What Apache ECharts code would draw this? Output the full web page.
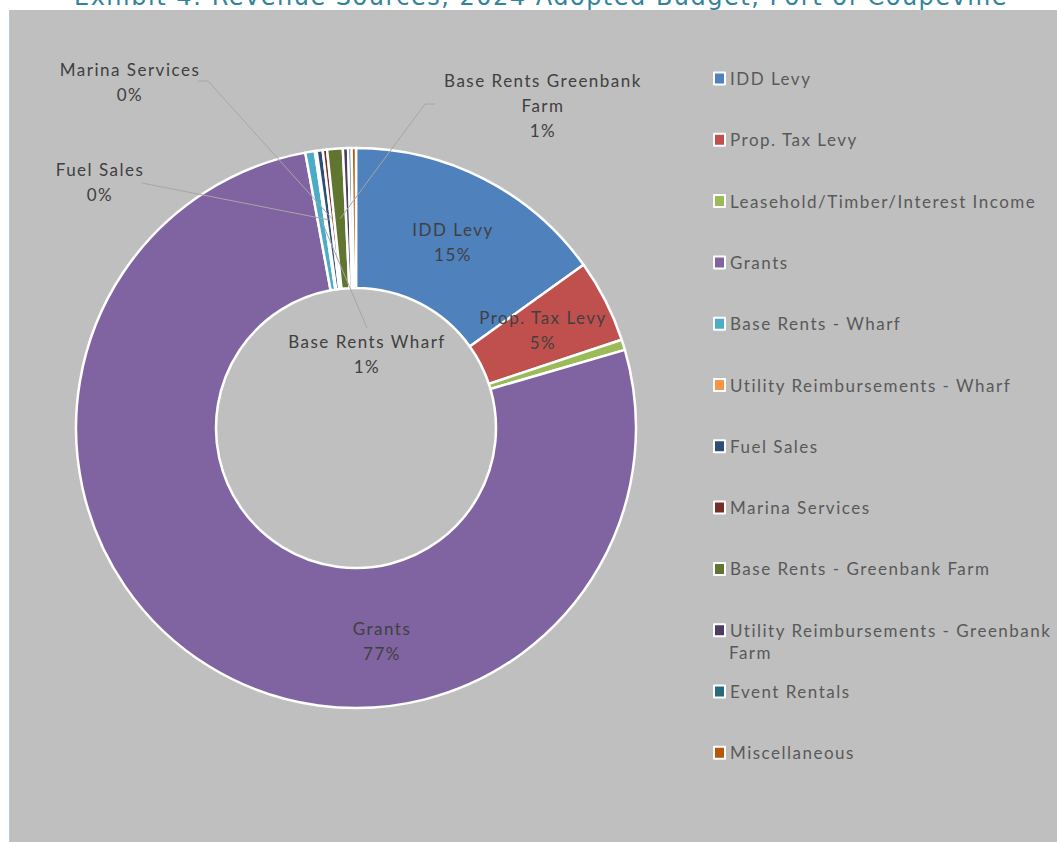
<!DOCTYPE html>
<html><head><meta charset="utf-8">
<script src="https://cdn.jsdelivr.net/npm/echarts@6/dist/echarts.min.js"></script>
<style>
html,body{margin:0;padding:0;background:#ffffff;}
#c{width:1057px;height:842px;letter-spacing:1.5px;}
</style>
</head><body><div id="c"></div>
<script>
// ---- data ----
const categories = ['IDD Levy','Prop. Tax Levy','Leasehold/Timber/Interest Income','Grants','Base Rents - Wharf','Utility Reimbursements - Wharf','Fuel Sales','Marina Services','Base Rents - Greenbank Farm','Utility Reimbursements - Greenbank Farm','Event Rentals','Miscellaneous'];
const values = [15.1, 4.8, 0.6, 76.6, 0.55, 0.1, 0.35, 0.25, 0.9, 0.3, 0.2, 0.25];
const labelTexts = ['IDD Levy','Prop. Tax Levy',null,'Grants','Base Rents Wharf',null,'Fuel Sales','Marina Services','Base Rents Greenbank\nFarm',null,null,null];
const legendTexts = ['IDD Levy','Prop. Tax Levy','Leasehold/Timber/Interest Income','Grants','Base Rents - Wharf','Utility Reimbursements - Wharf','Fuel Sales','Marina Services','Base Rents - Greenbank Farm','Utility Reimbursements - Greenbank','Event Rentals','Miscellaneous'];
const legendWrapText = {9: 'Farm'};
const titleText = 'Exhibit 4: Revenue Sources, 2024 Adopted Budget, Port of Coupeville';

// ---- styles / layout ----
const colors = ['#4F81BD','#C0504D','#9BBB59','#8064A2','#4BACC6','#F79646','#2C4D75','#772C2A','#5F7530','#4D3B62','#276A7C','#B65708'];
const CX = 356, CY = 428, R0 = 140, R1 = 280;
const LEGEND_X = 713, LEGEND_Y0 = 76, LEGEND_STEP = 61.3;
const labelPos = {
  0: {x: 453, y: 242},
  1: {x: 543, y: 330},
  3: {x: 382, y: 641},
  4: {x: 367, y: 354, line: [[367, 328]]},
  6: {x: 100, y: 182, line: [[142, 183]]},
  7: {x: 130, y: 82,  line: [[208, 81], [198, 81]]},
  8: {x: 543, y: 105, line: [[425, 104], [435, 104]]}
};
const labelFont = {fontFamily: 'Lato', fontSize: 17, color: '#404040', lineHeight: 25};
const legendFont = {fontFamily: 'Lato', fontSize: 17, color: '#595959'};

const total = values.reduce((a, b) => a + b, 0);
function anchorFor(idx) {
  let before = 0;
  for (let i = 0; i < idx; i++) before += values[i];
  const mid = (before + values[idx] / 2) / total * Math.PI * 2;
  const r = (R0 + R1) / 2;
  return [CX + r * Math.sin(mid), CY - r * Math.cos(mid)];
}

const data = categories.map((name, i) => ({
  name, value: values[i],
  itemStyle: {color: colors[i]},
  label: {show: labelTexts[i] !== null}
}));

const legends = categories.map((name, i) => ({
  data: [name],
  left: LEGEND_X,
  top: LEGEND_Y0 - 6 + i * LEGEND_STEP,
  orient: 'vertical',
  padding: 0,
  itemWidth: 11,
  itemHeight: 12,
  icon: 'rect',
  selectedMode: false,
  itemStyle: {borderColor: '#ffffff', borderWidth: 2},
  formatter: () => legendTexts[i],
  textStyle: legendFont
}));

const graphics = [
  {type: 'rect', left: 10, top: 10, z: -10, shape: {width: 1047, height: 832}, style: {fill: '#BFBFBF'}},
  {type: 'line', z: -9, shape: {x1: 9.5, y1: 10, x2: 9.5, y2: 842}, style: {stroke: '#B7C6DC', lineWidth: 1}}
];
// wrapped continuation line of a legend entry
Object.keys(legendWrapText).forEach(k => {
  graphics.push({type: 'text', x: LEGEND_X + 16, y: LEGEND_Y0 + k * LEGEND_STEP + 25, z: 10,
    style: {text: legendWrapText[k], font: '17px Lato', fill: legendFont.color, verticalAlign: 'middle', align: 'left'}});
});
// leader lines from slice mid-ring to the moved labels
Object.keys(labelPos).forEach(k => {
  const pos = labelPos[k];
  if (!pos.line) return;
  graphics.push({type: 'polyline', z: 5, shape: {points: [anchorFor(+k)].concat(pos.line)},
    style: {stroke: '#A6A6A6', lineWidth: 1, fill: null}});
});

const chart = echarts.init(document.getElementById('c'), null, {renderer: 'svg'});
chart.setOption({
  animation: false,
  backgroundColor: '#ffffff',
  title: {
    text: titleText, left: 74, top: -15, padding: 0,
    textStyle: {fontFamily: 'DejaVu Sans', fontSize: 24, fontWeight: 'normal', color: '#31849B'}
  },
  graphic: graphics,
  legend: legends,
  series: [{
    type: 'pie',
    center: [CX, CY],
    radius: [R0, R1],
    startAngle: 90,
    clockwise: true,
    avoidLabelOverlap: false,
    emphasis: {disabled: true},
    itemStyle: {borderColor: '#ffffff', borderWidth: 2.5},
    label: Object.assign({
      position: 'outside',
      formatter: p => labelTexts[p.dataIndex] + '\n' + Math.round(p.percent) + '%'
    }, labelFont),
    labelLine: {show: false},
    labelLayout: function (params) {
      const pos = labelPos[params.dataIndex];
      if (!pos) return {};
      return {x: pos.x, y: pos.y, align: 'center', verticalAlign: 'middle'};
    },
    data
  }]
});
</script>
</body></html>
